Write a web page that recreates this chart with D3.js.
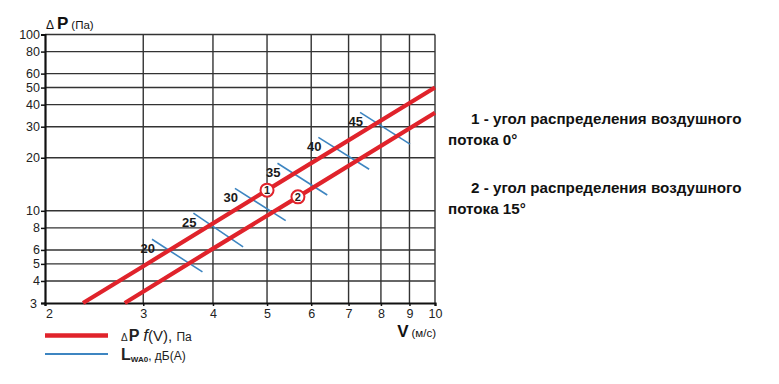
<!DOCTYPE html>
<html>
<head>
<meta charset="utf-8">
<script src="https://cdn.jsdelivr.net/npm/d3@7"></script>
<style>
  body { margin: 0; background: #fff; }
  text { font-family: "Liberation Sans", Arial, sans-serif; }
</style>
</head>
<body>
<div id="chart"></div>
<script>
// axis ticks
var xTicks = [2, 3, 4, 5, 6, 7, 8, 9, 10];
var yTicks = [3, 4, 5, 6, 8, 10, 20, 30, 40, 50, 60, 80, 100];

// pressure drop curves
var curve1V = [2.34, 3, 5, 10];
var curve1P = [3, 4.85, 13.1, 50];
var curve2V = [2.78, 4, 5.68, 10];
var curve2P = [3, 6.1, 12, 36];

// curve markers
var markerLabels = ["1", "2"];
var markerV = [5, 5.68];
var markerP = [13.1, 12];

// sound level lines
var levels = [20, 25, 30, 35, 40, 45];
var levelStartV = [3.11, 3.69, 4.38, 5.22, 6.18, 7.34];
var levelStartP = [6.9, 9.7, 13.4, 18.6, 26.1, 36.2];
var levelEndV = [3.83, 4.53, 5.40, 6.41, 7.62, 9.02];
var levelEndP = [4.5, 6.25, 8.8, 12.3, 17.2, 23.9];

var notes = [
  ["1 - угол распределения воздушного", "потока 0°"],
  ["2 - угол распределения воздушного", "потока 15°"]
];

var red = "#e0232b", blue = "#3d85c1";

var width = 779, height = 384;
var svg = d3.select("#chart").append("svg")
    .attr("width", width)
    .attr("height", height);

var x = d3.scaleLog().domain([2, 10]).range([45, 435]);
var y = d3.scaleLog().domain([3, 100]).range([303, 34.5]);

// grid
var grid = svg.append("g");
grid.selectAll("line.v")
    .data(xTicks.slice(1))
    .enter().append("line")
    .attr("x1", d => x(d)).attr("x2", d => x(d))
    .attr("y1", y(100)).attr("y2", y(3))
    .attr("stroke", "#333").attr("stroke-width", 1.4);
grid.selectAll("line.h")
    .data(yTicks.slice(1))
    .enter().append("line")
    .attr("x1", x(2)).attr("x2", x(10))
    .attr("y1", d => y(d)).attr("y2", d => y(d))
    .attr("stroke", "#333").attr("stroke-width", 1.4);

// axes
var yAxis = svg.append("g")
    .attr("transform", "translate(" + x(2) + ",0)")
    .call(d3.axisLeft(y).tickValues(yTicks).tickFormat(d3.format("d")).tickSize(4).tickPadding(1));
var xAxis = svg.append("g")
    .attr("transform", "translate(0," + y(3) + ")")
    .call(d3.axisBottom(x).tickValues(xTicks).tickFormat(d3.format("d")).tickSize(3).tickPadding(3));
[xAxis, yAxis].forEach(function(a) {
  a.select(".domain").attr("stroke", "#111").attr("stroke-width", 2.2);
  a.selectAll(".tick line").attr("stroke", "#111").attr("stroke-width", 1.5);
  a.selectAll("text").attr("font-size", 12.5).attr("fill", "#222")
    .style("font-family", "'Liberation Sans', Arial, sans-serif");
});
xAxis.selectAll(".tick text").filter(d => d === 2).attr("dx", 4);
yAxis.selectAll(".tick text").filter(d => d === 3).attr("dx", -3);

// axis titles
var yt = svg.append("text").attr("x", 46).attr("y", 29).attr("fill", "#111");
yt.append("tspan").attr("font-size", 12).text("Δ");
yt.append("tspan").attr("font-size", 17).attr("font-weight", "bold").attr("dx", 3).text("P");
yt.append("tspan").attr("font-size", 11.5).attr("dx", 3).text("(Па)");

var xt = svg.append("text").attr("x", 436).attr("y", 337).attr("text-anchor", "end").attr("fill", "#111");
xt.append("tspan").attr("font-size", 17).attr("font-weight", "bold").text("V");
xt.append("tspan").attr("font-size", 11.5).attr("dx", 3).text("(м/с)");

// sound level lines
var lvl = svg.append("g");
lvl.selectAll("line")
    .data(levels)
    .enter().append("line")
    .attr("x1", (d, i) => x(levelStartV[i]))
    .attr("y1", (d, i) => y(levelStartP[i]))
    .attr("x2", (d, i) => x(levelEndV[i]))
    .attr("y2", (d, i) => y(levelEndP[i]))
    .attr("stroke", blue).attr("stroke-width", 1.6);
lvl.selectAll("text")
    .data(levels)
    .enter().append("text")
    .attr("x", (d, i) => x(levelStartV[i]) + 3)
    .attr("y", (d, i) => y(levelStartP[i]) + 13.5)
    .attr("text-anchor", "end")
    .attr("font-size", 13).attr("font-weight", "bold").attr("fill", "#1a1a1a")
    .text(d => d);

// pressure curves
var line = d3.line().x(d => x(d[0])).y(d => y(d[1]));
[[curve1V, curve1P], [curve2V, curve2P]].forEach(function(c) {
  svg.append("path")
      .datum(d3.zip(c[0], c[1]))
      .attr("d", line)
      .attr("fill", "none")
      .attr("stroke", red).attr("stroke-width", 4.2);
});

// markers
var mk = svg.selectAll("g.marker")
    .data(markerLabels)
    .enter().append("g")
    .attr("transform", (d, i) => "translate(" + x(markerV[i]) + "," + y(markerP[i]) + ")");
mk.append("circle").attr("r", 6.5).attr("fill", "#fff").attr("stroke", red).attr("stroke-width", 2);
mk.append("text").attr("text-anchor", "middle").attr("dy", 4)
    .attr("font-size", 11).attr("font-weight", "bold").attr("fill", "#222")
    .text(d => d);

// legend
svg.append("line").attr("x1", 45).attr("x2", 108).attr("y1", 335.5).attr("y2", 335.5)
    .attr("stroke", red).attr("stroke-width", 4.5);
svg.append("line").attr("x1", 45).attr("x2", 108).attr("y1", 354).attr("y2", 354)
    .attr("stroke", blue).attr("stroke-width", 1.8);

var l1 = svg.append("text").attr("x", 121).attr("y", 341).attr("fill", "#222");
l1.append("tspan").attr("font-size", 10).text("Δ");
l1.append("tspan").attr("font-size", 16).attr("font-weight", "bold").attr("dx", 1).text("P");
l1.append("tspan").attr("font-size", 17).attr("font-style", "italic").attr("dx", 4).text("f");
l1.append("tspan").attr("font-size", 15).text("(V), ");
l1.append("tspan").attr("font-size", 12).text("Па");

var l2 = svg.append("text").attr("x", 121).attr("y", 360).attr("fill", "#222");
l2.append("tspan").attr("font-size", 16).attr("font-weight", "bold").text("L");
l2.append("tspan").attr("font-size", 8).attr("font-weight", "bold").attr("dy", 2).text("WA0");
l2.append("tspan").attr("font-size", 12).attr("dy", -2).text(", дБ(А)");

// notes on the right
var nt = svg.selectAll("g.note")
    .data(notes)
    .enter().append("g")
    .attr("transform", (d, i) => "translate(0," + (i * 69) + ")");
nt.append("text").attr("x", 471).attr("y", 123.5)
    .attr("font-size", 15.2).attr("font-weight", "bold").attr("fill", "#111")
    .text(d => d[0]);
nt.append("text").attr("x", 448).attr("y", 145)
    .attr("font-size", 15.2).attr("font-weight", "bold").attr("fill", "#111")
    .text(d => d[1]);
</script>
</body>
</html>
